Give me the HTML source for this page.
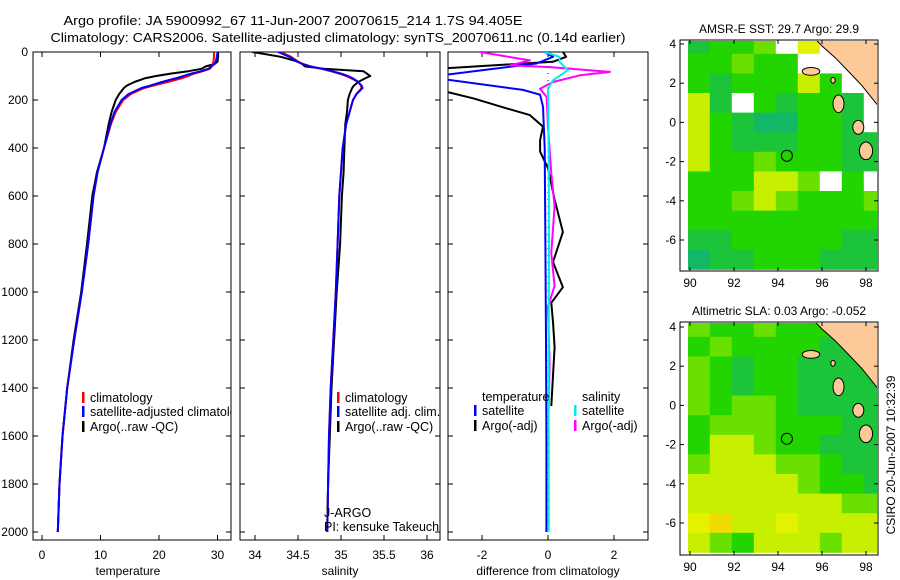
<!DOCTYPE html>
<html><head><meta charset="utf-8">
<style>
html,body{margin:0;padding:0;background:#fff;}
svg{display:block;font-family:"Liberation Sans",sans-serif;}
</style></head>
<body>
<svg id="fig" width="900" height="580" viewBox="0 0 900 580" xmlns="http://www.w3.org/2000/svg">
<text x="293" y="25" font-size="13" text-anchor="middle" textLength="459" lengthAdjust="spacingAndGlyphs">Argo profile: JA 5900992_67 11-Jun-2007 20070615_214 1.7S 94.405E</text>
<text x="338" y="42" font-size="13" text-anchor="middle" textLength="575" lengthAdjust="spacingAndGlyphs">Climatology: CARS2006. Satellite-adjusted climatology: synTS_20070611.nc (0.14d earlier)</text>
<g id="plots"></g>
</svg>
<script>
// ---------- profile data ----------
const depthTS = [0,20,40,50,60,70,80,90,100,110,125,140,150,175,200,250,300,400,500,600,800,1000,1200,1400,1600,1800,2000];
const climT = [29.4,29.4,29.3,29.2,29.0,28.7,27.5,26,25,23.8,21.5,19,17.5,15.2,13.9,12.6,11.8,10.6,9.5,8.8,7.9,6.8,5.5,4.3,3.5,3.0,2.7];
const satT  = [30.0,29.9,29.7,29.5,29.0,28.4,27.2,25.5,24.2,22.8,20.5,18.5,17,14.8,13.6,12.4,11.7,10.6,9.5,8.8,7.9,6.8,5.5,4.3,3.5,3.0,2.7];
const argoT = [30.1,30.1,30.0,29.5,28.0,27.3,25.0,22.0,19.5,17.5,15.8,14.5,14.0,13.2,12.6,11.9,11.4,10.6,9.4,8.6,7.7,6.7,5.4,4.3,3.5,3.0,2.7];
const climS = [34.3,34.42,34.5,34.56,34.65,34.77,34.88,34.98,35.06,35.12,35.2,35.23,35.24,35.18,35.14,35.1,35.06,35.02,35.0,34.98,34.96,34.94,34.91,34.88,34.86,34.85,34.84];
const satS  = [34.27,34.4,34.49,34.55,34.64,34.78,34.9,35.0,35.08,35.14,35.2,35.24,35.25,35.18,35.14,35.1,35.06,35.02,35.0,34.98,34.96,34.94,34.91,34.88,34.86,34.85,34.84];
const argoS = [33.97,34.3,34.5,34.55,34.58,34.8,35.26,35.3,35.34,35.28,35.2,35.15,35.13,35.1,35.08,35.07,35.05,35.04,35.03,35.01,34.99,34.95,34.92,34.89,34.87,34.85,34.84];
// difference panel
const depthArgoTd = [0,20,41,69,120,165,193,235,263,311,367,415,484,615,750,875,980,1045,1125,1230,1475];
const argoTd = [0.45,0.55,0.15,-3.3,-5,-3.1,-2.27,-1.25,-0.55,-0.15,-0.24,-0.24,0,0.2,0.45,0.15,0.45,0.1,0.15,0.2,0.1];
const depthSatTd = [0,20,48,95,105,114,158,178,228,400,800,1200,1600,2000];
const satTd = [-0.1,0.15,-0.35,-3.1,-4,-3.1,-0.76,-0.24,-0.15,-0.1,-0.08,-0.06,-0.05,-0.05];
const depthArgoSd = [0,35,56,63,83,97,125,153,188,311,505,643,838,975,1060,1300,1480];
const argoSd = [-2.06,-0.55,-1.15,0.06,1.88,0.97,0.15,-0.24,-0.04,0,0.1,0.2,0.1,0.2,0,0.05,0.02];
const depthSatSd = [0,20,41,76,118,153,400,800,1200,1600,2000];
const satSd = [-0.1,0.35,0.35,0.6,0.15,0,0.02,0.03,0.02,0.02,0.02];
const depthTicks = [0,200,400,600,800,1000,1200,1400,1600,1800,2000];
const tTicks = [0,10,20,30];
const sTicks = [34,34.5,35,35.5,36];
const dTicks = [-2,0,2];

// ---------- map data (color index per 1-degree cell, rows lat 4 -> -7, cols lon 90 -> 99) ----------
const sstGrid = [
 [3,4,4,5,0,7,0,1,1,1],
 [4,4,5,4,4,0,0,0,1,1],
 [4,3,4,4,4,6,4,0,0,1],
 [6,3,0,4,3,4,4,3,0,0],
 [6,4,3,2,2,4,4,3,0,0],
 [6,4,3,3,3,4,4,3,3,0],
 [6,4,4,5,4,4,4,3,3,2],
 [4,4,4,6,6,5,0,4,0,3],
 [4,4,5,6,5,4,4,4,5,4],
 [4,4,4,4,4,4,4,4,4,4],
 [3,3,4,4,4,4,4,3,3,3],
 [2,3,3,4,4,4,3,3,3,3]];
const slaGrid = [
 [5,4,4,5,4,4,4,4,5,5],
 [4,5,4,4,4,4,3,3,3,4],
 [5,4,3,4,4,3,3,3,3,3],
 [5,4,3,4,4,3,3,3,3,3],
 [5,4,5,5,4,3,3,3,3,3],
 [4,5,5,5,4,4,4,3,3,3],
 [4,6,6,5,4,4,3,3,3,3],
 [5,6,6,6,5,5,4,3,3,3],
 [6,6,6,6,6,5,4,4,3,3],
 [6,6,6,6,6,6,6,5,5,6],
 [7,8,6,6,7,6,6,6,6,8],
 [6,5,4,6,6,6,5,6,6,7]];
const palette = ['#ffffff','#fdc998','#12b868','#1cc43a','#22d400','#6ae000','#c6f000','#e4f200','#f0dc00'];
const lonTicks = [90,92,94,96,98];
const latTicks = [4,2,0,-2,-4,-6];
const argoLon = 94.405, argoLat = -1.7;

// ---------- helpers ----------
const NS = 'http://www.w3.org/2000/svg';
const root = document.getElementById('plots');
function mk(tag, attrs, parent){
  const e = document.createElementNS(NS, tag);
  for (const k in attrs) e.setAttribute(k, attrs[k]);
  (parent||root).appendChild(e);
  return e;
}
const yTop = 52, yBot = 540;
function yP(p){ return 52 + p*0.24; }

function panel(id, x0, x1, xScale, ticks, label, labelX, showY){
  const g = mk('g', {});
  
  
  const cp = mk('clipPath', {id: id+'-clip'}, g);
  mk('rect', {x:x0, y:yTop, width:x1-x0, height:yBot-yTop}, cp);
  const fr = mk('rect', {x:x0, y:yTop, width:x1-x0, height:yBot-yTop, fill:'none', stroke:'#000', 'stroke-width':1}, g);
  
  
  ticks.forEach(v=>{
    const x = xScale(v);
    mk('line', {x1:x, x2:x, y1:yTop, y2:yTop+5, stroke:'#000'}, g);
    mk('line', {x1:x, x2:x, y1:yBot, y2:yBot-5, stroke:'#000'}, g);
    const t = mk('text', {x:x, y:559, 'font-size':12, 'text-anchor':'middle'}, g);
    t.textContent = v;
    
    
  });
  depthTicks.forEach(p=>{
    const y = yP(p);
    mk('line', {x1:x0, x2:x0+5, y1:y, y2:y, stroke:'#000'}, g);
    mk('line', {x1:x1, x2:x1-5, y1:y, y2:y, stroke:'#000'}, g);
    if (showY){
      const t = mk('text', {x:28, y:y+4, 'font-size':12, 'text-anchor':'end'}, g);
      t.textContent = p;
      
      
    }
  });
  const xl = mk('text', {x:labelX, y:575, 'font-size':12, 'text-anchor':'middle'}, g);
  xl.textContent = label;
  
  
  return g;
}
function series(g, id, name, depths, vals, xScale, color, w){
  const pts = depths.map((p,i)=> xScale(vals[i]).toFixed(1)+','+yP(p).toFixed(1)).join(' ');
  const l = mk('polyline', {points:pts, fill:'none', stroke:color, 'stroke-width':w||2, 'clip-path':'url(#'+id+'-clip)', 'stroke-linejoin':'round'}, g);
  
  
}
function legend(g, x, y, color, label, name){
  if (color){
    const b = mk('rect', {x:x, y:y-10, width:2.5, height:11, fill:color}, g);
    
    
  }
  const t = mk('text', {x:x+8, y:y, 'font-size':12.5}, g);
  t.textContent = label;
  
  
  return t;
}

// ---------- temperature ----------
const xT = v => 42 + v*5.85;
const gT = panel('temperature', 33, 231, xT, tTicks, 'temperature', 128, true);
series(gT, 'temperature', 'argo-temperature-line', depthTS, argoT, xT, '#000');
series(gT, 'temperature', 'climatology-temperature-line', depthTS, climT, xT, '#f00');
series(gT, 'temperature', 'satellite-temperature-line', depthTS, satT, xT, '#00f');
const lgT = mk('g', {'clip-path':'url(#temperature-clip)'}, gT);
legend(lgT, 82, 402, '#f00', 'climatology', 'legend-climatology');
legend(lgT, 82, 416, '#00f', 'satellite-adjusted climatology', 'legend-satellite-adjusted');
legend(lgT, 82, 431, '#000', 'Argo(..raw -QC)', 'legend-argo');

// ---------- salinity ----------
const xS = v => 341 + (v-35)*86;
const gS = panel('salinity', 240, 440, xS, sTicks, 'salinity', 340, false);
series(gS, 'salinity', 'argo-salinity-line', depthTS, argoS, xS, '#000');
series(gS, 'salinity', 'climatology-salinity-line', depthTS, climS, xS, '#f00');
series(gS, 'salinity', 'satellite-salinity-line', depthTS, satS, xS, '#00f');
const lgS = mk('g', {'clip-path':'url(#salinity-clip)'}, gS);
legend(lgS, 337, 402, '#f00', 'climatology', 'legend-sal-climatology');
legend(lgS, 337, 416, '#00f', 'satellite adj. clim.', 'legend-sal-satellite');
legend(lgS, 337, 431, '#000', 'Argo(..raw -QC)', 'legend-sal-argo');
legend(lgS, 316, 517, null, 'J-ARGO', 'data-centre-label');
legend(lgS, 316, 531, null, 'PI: kensuke Takeuchi', 'pi-label');

// ---------- difference ----------
const xD = v => 548 + v*33;
const gD = panel('difference', 448, 648, xD, dTicks, 'difference from climatology', 548, false);
mk('line', {x1:xD(0), x2:xD(0), y1:yTop, y2:yBot, stroke:'#000', 'stroke-width':1, 'stroke-dasharray':'1,6'}, gD);
series(gD, 'difference', 'argo-temperature-diff-line', depthArgoTd, argoTd, xD, '#000');
series(gD, 'difference', 'satellite-temperature-diff-line', depthSatTd, satTd, xD, '#00f');
series(gD, 'difference', 'argo-salinity-diff-line', depthArgoSd, argoSd, xD, '#f0f');
series(gD, 'difference', 'satellite-salinity-diff-line', depthSatSd, satSd, xD, '#0ee');
legend(gD, 474, 401, null, 'temperature', 'legend-diff-temperature-header');
legend(gD, 574, 401, null, 'salinity', 'legend-diff-salinity-header');
legend(gD, 474, 415, '#00f', 'satellite', 'legend-diff-temp-satellite');
legend(gD, 474, 430, '#000', 'Argo(-adj)', 'legend-diff-temp-argo');
legend(gD, 574, 415, '#0ee', 'satellite', 'legend-diff-sal-satellite');
legend(gD, 574, 430, '#f0f', 'Argo(-adj)', 'legend-diff-sal-argo');

// ---------- maps ----------
function map(id, title, grid, lat4y, fy0, fy1){
  const g = mk('g', {});
  
  
  const lx = lon => 690 + (lon-90)*22;
  const ly = lat => lat4y + (4-lat)*19.6;
  const cp = mk('clipPath', {id:id+'-mclip'}, g);
  mk('rect', {x:688, y:fy0+1, width:189, height:fy1-fy0-2}, cp);
  const cells = mk('g', {'clip-path':'url(#'+id+'-mclip)'}, g);
  grid.forEach((row, r)=>{
    row.forEach((ci, c)=>{
      const lat = 4.5 - r, lon = 89.9 + c;
      const rc = mk('rect', {x:lx(lon).toFixed(1), y:ly(lat).toFixed(1), width:22.5, height:20, fill:palette[ci]}, cells);
      
      
    });
  });
  const coast = [[95.4,4.6],[96.0,3.9],[96.6,3.3],[97.2,2.6],[97.8,1.9],[98.3,1.2],[98.8,0.5],[99.6,0.1],[99.6,4.6]];
  const land = mk('polygon', {points: coast.map(p=>lx(p[0]).toFixed(1)+','+ly(p[1]).toFixed(1)).join(' '), fill:'#fdc998', stroke:'#000', 'stroke-width':1}, cells);
  
  
  const isl = [[95.1,2.8,95.9,2.4],[96.5,1.4,97.0,0.5],[97.4,0.1,97.9,-0.6],[97.7,-1.0,98.3,-1.9],[96.4,2.3,96.6,2.0]];
  isl.forEach(b=>{
    const e = mk('ellipse', {cx:((lx(b[0])+lx(b[2]))/2).toFixed(1), cy:((ly(b[1])+ly(b[3]))/2).toFixed(1), rx:((lx(b[2])-lx(b[0]))/2).toFixed(1), ry:((ly(b[3])-ly(b[1]))/2).toFixed(1), fill:'#fdc998', stroke:'#000', 'stroke-width':1}, cells);
    
    
  });
  const fr = mk('rect', {x:680, y:fy0, width:198, height:fy1-fy0, fill:'none', stroke:'#000'}, g);
  
  
  lonTicks.forEach(v=>{
    const x = lx(v);
    mk('line', {x1:x, x2:x, y1:fy1, y2:fy1-4, stroke:'#000'}, g);
    mk('line', {x1:x, x2:x, y1:fy0, y2:fy0+4, stroke:'#000'}, g);
    const t = mk('text', {x:x, y:fy1+16, 'font-size':12, 'text-anchor':'middle'}, g);
    t.textContent = v;
    
    
  });
  latTicks.forEach(v=>{
    const y = ly(v);
    mk('line', {x1:680, x2:684, y1:y, y2:y, stroke:'#000'}, g);
    mk('line', {x1:878, x2:874, y1:y, y2:y, stroke:'#000'}, g);
    const t = mk('text', {x:676, y:y+4, 'font-size':12, 'text-anchor':'end'}, g);
    t.textContent = v;
    
    
  });
  const c = mk('circle', {cx:lx(argoLon), cy:ly(argoLat), r:5.5, fill:'none', stroke:'#000', 'stroke-width':1}, g);
  
  
  const t = mk('text', {x:779, y:fy0-7, 'font-size':12, 'text-anchor':'middle'}, g);
  t.textContent = title;
  
  
}
map('sst', 'AMSR-E SST: 29.7 Argo: 29.9', sstGrid, 44, 40, 271);
map('sla', 'Altimetric SLA: 0.03 Argo: -0.052', slaGrid, 327, 322, 555);
const cs = mk('text', {x:0, y:0, 'font-size':12, 'text-anchor':'middle', transform:'translate(895,455) rotate(-90)'});
cs.textContent = 'CSIRO 20-Jun-2007 10:32:39';


</script>
</body></html>
